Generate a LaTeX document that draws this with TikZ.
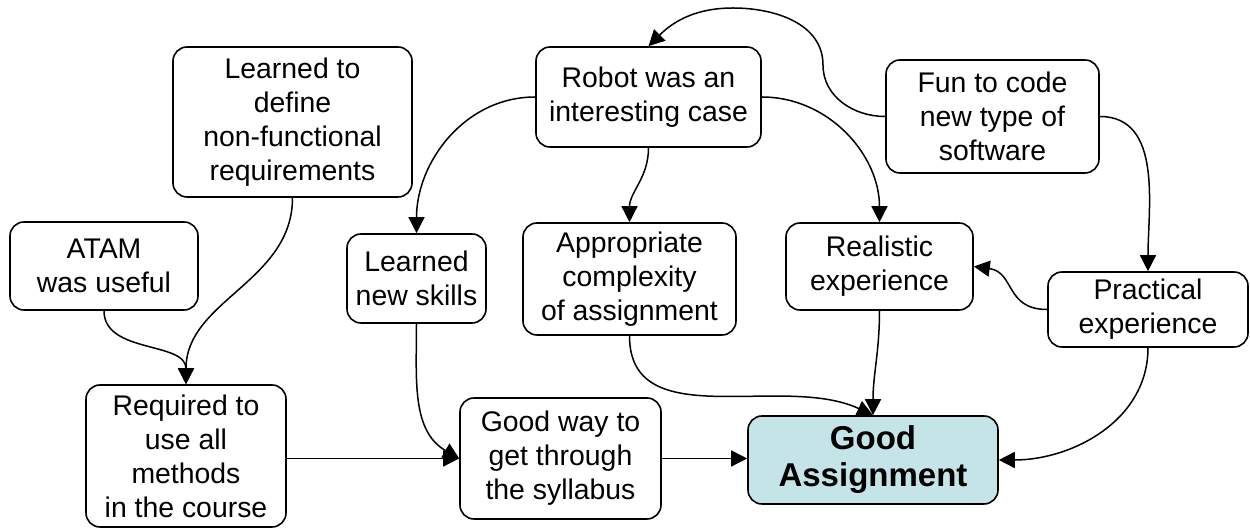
\documentclass[tikz,border=0pt]{standalone}
\usepackage{fontspec}
\setmainfont{Liberation Sans}
\usetikzlibrary{arrows.meta}
\definecolor{gabg}{RGB}{197,228,232}
\begin{document}
\begin{tikzpicture}[x=0.5pt,y=0.5pt,
  box/.style={draw, line width=0.8pt, rounded corners=7pt, align=center, inner sep=0pt,
    font=\fontsize{14.2pt}{17pt}\selectfont},
  conn/.style={line width=0.75pt, -{Triangle[length=8pt,width=8pt]}}]
\useasboundingbox (0,0) rectangle (1250,530);
\node[box, minimum width=119.5pt, minimum height=75pt] (ldef) at (292.5,408) {Learned to\\define\\non-functional\\requirements};
\node[box, minimum width=94pt, minimum height=44pt] (atam) at (104,264) {ATAM\\was useful};
\node[box, minimum width=100pt, minimum height=71pt] (req) at (186,74) {Required to\\use all\\methods\\in the course};
\node[box, minimum width=112.5pt, minimum height=50pt] (robot) at (648.5,433) {Robot was an\\interesting case};
\node[box, minimum width=106.5pt, minimum height=56.5pt] (fun) at (992.5,413.5) {Fun to code\\new type of\\software};
\node[box, minimum width=69.5pt, minimum height=44.5pt] (lns) at (416.5,251.5) {Learned\\new skills};
\node[box, minimum width=106.5pt, minimum height=56pt] (appr) at (629.5,251) {Appropriate\\complexity\\of assignment};
\node[box, minimum width=93.5pt, minimum height=43.5pt] (real) at (879.5,263.5) {Realistic\\experience};
\node[box, minimum width=100pt, minimum height=37.5pt] (prac) at (1148,220.5) {Practical\\experience};
\node[box, minimum width=100.5pt, minimum height=60.5pt] (gw) at (560.5,71.5) {Good way to\\get through\\the syllabus};
\node[box, fill=gabg, minimum width=125pt, minimum height=44pt,
  font=\bfseries\fontsize{16.5pt}{18.5pt}\selectfont] (ga) at (873,70) {Good\\Assignment};

\coordinate (funwig) at (823,465);
\coordinate (funtop) at (733,522);

\draw[conn] (robot.west) to[out=180,in=90] (lns.north);
\draw[conn] (robot.south) to[out=-90,in=90] (appr.north);
\draw[conn] (robot.east) to[out=0,in=90] (real.north);
\draw[conn] (fun.west) to[out=180,in=-90] (funwig) to[out=90,in=0] (funtop) to[out=180,in=45] (robot.north);
\draw[conn] (fun.east) to[out=0,in=90] (prac.north);
\draw[conn] (prac.west) .. controls (1005,220.5) and (1015,258) .. (real.east);
\draw[conn] (prac.south) to[out=-90,in=0] (ga.east);
\draw[conn] (real.south) to[out=-90,in=90] (ga.north);
\draw[conn] (appr.south) to[out=-90,in=155] (ga.north);
\draw[conn] (lns.south) to[out=-90,in=150] (gw.west);
\draw[conn] (req.east |- gw.west) -- (gw.west);
\draw[conn] (gw.east) -- (gw.east -| ga.west);
\draw[conn] (atam.south) to[out=-90,in=90] (req.north);
\draw[conn] (ldef.south) to[out=-90,in=90] (req.north);
\end{tikzpicture}
\end{document}
